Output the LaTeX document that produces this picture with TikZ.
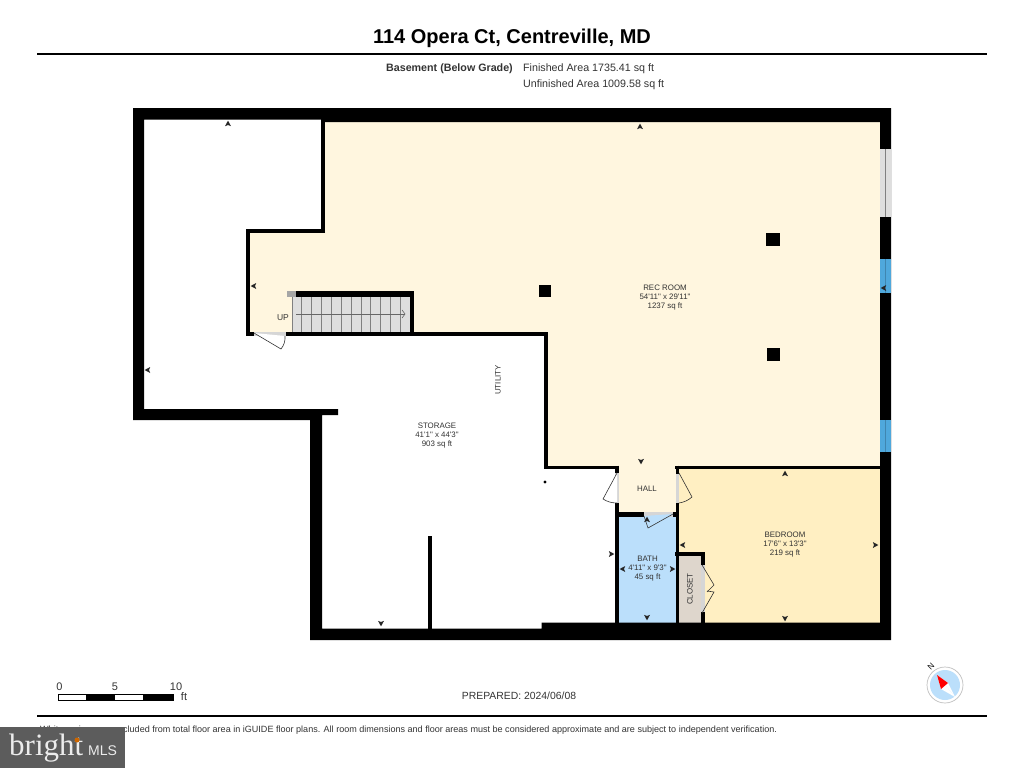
\documentclass[tikz,border=0pt]{standalone}
\usepackage{fontspec}
\setmainfont[Ligatures=TeXOff]{Liberation Sans}
\newfontfamily\logofont{Liberation Serif}
\definecolor{recfill}{HTML}{FFF6DF}
\definecolor{bedfill}{HTML}{FFEFC2}
\definecolor{bathfill}{HTML}{BBDFFB}
\definecolor{closetfill}{HTML}{DED6CC}
\definecolor{stairfill}{HTML}{DEDEDE}
\definecolor{doorfill}{HTML}{D6D6D6}
\definecolor{glassblue}{HTML}{4FA8DC}
\definecolor{labelgray}{HTML}{333333}
\definecolor{logogray}{HTML}{5C5C5C}
\tikzset{
    wall/.style={fill=black, draw=none},
    iwall/.style={draw=black, line cap=butt},
    room/.style={inner sep=0pt, align=center, text=labelgray, font=\fontsize{7.9}{9}\selectfont},
    sheet/.style={inner sep=0pt, anchor=base, font=\fontsize{10.7}{12}\selectfont, text=labelgray},
    scalenum/.style={sheet, font=\fontsize{11}{13}\selectfont},
    door/.style={draw=labelgray, line width=0.6pt},
    doorgap/.style={fill=doorfill, draw=none},
    tick/.pic={\fill[black!85] (-3,2.2) -- (0,-3.4) -- (3,2.2) -- (0,1) -- cycle;},
}
\begin{document}
\begin{tikzpicture}[x=1pt, y=-1pt]
    \useasboundingbox (0,0) rectangle (1024,768);
    %
    % room fills
    \fill[recfill] (322,120) -- (882,120) -- (882,467) -- (677,467) -- (677,515) -- (617,515) -- (617,467) -- (546,467) -- (546,333) -- (248,333) -- (248,232) -- (322,232) -- cycle;
    \fill[bedfill] (677,467) -- (882,467) -- (882,624) -- (703,624) -- (703,553) -- (677,553) -- cycle;
    \fill[bathfill] (617,513) rectangle (677,624);
    \fill[closetfill] (677,553) rectangle (703,624);
    \fill[stairfill] (292,295) rectangle (412,333);
    %
    % stairs
    \foreach \x in {292,301,311,321,331,341,351,361,370,380,390,400}
        \draw[gray, line width=0.6pt] (\x,296) -- (\x,333);
    \draw[gray!80!black, line width=0.6pt] (296,314) -- (405,314);
    \draw[gray!80!black, line width=0.6pt] (402,310) -- (405,314) -- (402,318);
    \fill[gray!70] (287,291) rectangle (296,297);
    %
    % outer walls
    \fill[wall, even odd rule]
        (133,108) -- (891,108) -- (891,640) -- (310,640) -- (310,420) -- (133,420) -- cycle
        (144,119.5) -- (322,119.5) -- (322,122) -- (880,122) -- (880,622.5) -- (541.5,622.5) -- (541.5,628.5) -- (322,628.5) -- (322,415) -- (338,415) -- (338,409) -- (144,409) -- cycle;
    %
    % inner walls
    \draw[iwall, line width=4pt] (323,119) -- (323,233);
    \draw[iwall, line width=4pt] (325,231) -- (248,231) -- (248,336);
    \draw[iwall, line width=6pt] (296,294) -- (414,294);
    \draw[iwall, line width=4pt] (412,292) -- (412,335);
    \draw[iwall, line width=4pt] (246,334) -- (548,334);
    \draw[iwall, line width=4pt] (546,332) -- (546,469);
    \draw[iwall, line width=3.5pt] (544,467.5) -- (619,467.5);
    \draw[iwall, line width=4pt] (617,465.5) -- (617,623);
    \draw[iwall, line width=3.5pt] (677.5,465.5) -- (677.5,623);
    \draw[iwall, line width=3.5pt] (675,467.5) -- (881,467.5);
    \draw[iwall, line width=5pt] (615,514.5) -- (679,514.5);
    \draw[iwall, line width=4pt] (675,554) -- (705,554);
    \draw[iwall, line width=4pt] (703,552) -- (703,623);
    \draw[iwall, line width=4pt] (430,536) -- (430,629);
    %
    % columns
    \fill[black] (766,233) rectangle (780,246);
    \fill[black] (539,285) rectangle (551,297);
    \fill[black] (767,348) rectangle (780,361);
    \fill[black] (545,482) circle (1.7);
    %
    % windows
    \fill[stairfill] (880,149) rectangle (891,217);
    \draw[black!50, line width=1.6pt] (885.5,149) -- (885.5,217);
    \fill[glassblue] (880,259) rectangle (891,293);
    \fill[glassblue] (880,420) rectangle (891,452);
    \draw[glassblue!80!black, line width=0.6pt] (885.5,259) -- (885.5,293);
    \draw[glassblue!80!black, line width=0.6pt] (885.5,420) -- (885.5,452);
    %
    % doors
    \fill[doorgap] (254,332) rectangle (286,336);
    \draw[door, fill=white] (254,333) -- (281,349) to[bend right=20] (285,336);
    \fill[doorgap] (615,473) rectangle (619,503);
    \draw[door, fill=white] (617,473) -- (603,499) to[bend right=15] (617,503);
    \fill[doorgap] (675.5,474) rectangle (679.5,503);
    \draw[door, fill=bedfill] (679,473) -- (692,497) to[bend left=15] (679,503);
    \fill[doorgap] (644,512) rectangle (673,517);
    \draw[door, fill=bathfill] (673,514) -- (648,528) -- (644,516);
    \fill[doorgap] (701,565) rectangle (705,612);
    \draw[door] (702,565) -- (714,585) -- (707,592);
    \draw[door] (707,591) -- (714,592) -- (702,613);
    %
    % dimension ticks
    \foreach \x/\y/\a in {228/124/0, 640/127/0, 785/474/0, 647/520/0,
                          641/461/180, 785/618/180, 381/623/180, 647/617/180,
                          254/286/90, 148/370/90, 683/545/90, 884/288/90, 623/569/90,
                          875/545/-90, 611/554/-90, 672/569/-90}
        \pic[rotate=\a] at (\x,\y) {tick};
    %
    % room labels
    \node[room] (recroom) at (665,298) {REC ROOM\\54'11" x 29'11"\\1237 sq ft};
    \node[room] (storage) at (437,436) {STORAGE\\41'1" x 44'3"\\903 sq ft};
    \node[room, rotate=90] (utility) at (498,380) {UTILITY};
    \node[room] (hall) at (647,489) {HALL};
    \node[room] (bath) at (647.5,569) {BATH\\4'11" x 9'3"\\45 sq ft};
    \node[room, rotate=90] (closet) at (690,589) {CLOSET};
    \node[room] (bedroom) at (785,545) {BEDROOM\\17'6" x 13'3"\\219 sq ft};
    \node[room, font=\fontsize{8.5}{9}\selectfont] (up) at (283,318) {UP};
    %
    % sheet header
    \node[inner sep=0pt, anchor=base, font=\fontsize{20}{22}\selectfont\bfseries] (title) at (512,44) {114 Opera Ct, Centreville, MD};
    \draw[line width=1.6pt] (37,54) -- (987,54);
    \node[sheet, anchor=base east, font=\fontsize{10.7}{12}\selectfont\bfseries] (level) at (513,71.5) {Basement (Below Grade)};
    \node[sheet, anchor=base west] (finished) at (523,71.5) {Finished Area 1735.41 sq ft};
    \node[sheet, anchor=base west] (unfinished) at (523,87.5) {Unfinished Area 1009.58 sq ft};
    %
    % scale bar
    \draw[black, line width=0.5pt, fill=white] (58,694.5) rectangle (173,700);
    \fill[black] (86,694) rectangle (115,700);
    \fill[black] (143,694) rectangle (173,700);
    \node[scalenum] (zero) at (59.5,690) {0};
    \node[scalenum] (five) at (115,690) {5};
    \node[scalenum] (ten) at (176,690) {10};
    \node[scalenum] (ft) at (184,700.5) {ft};
    \node[sheet, font=\fontsize{10.4}{12}\selectfont] (prepared) at (519,699) {PREPARED: 2024/06/08};
    %
    % compass
    \draw[gray!50, line width=0.7pt, fill=white] (945,685) circle (18);
    \fill[bathfill] (945,685) circle (15);
    \fill[white] (937,675) -- (955,697) -- (948,683) -- cycle;
    \fill[white] (937,675) -- (955,697) -- (941,689) -- cycle;
    \fill[red] (937,675) -- (948,683) -- (941,689) -- cycle;
    \node[inner sep=0pt, rotate=45, font=\fontsize{8}{9}\selectfont] (north) at (931,667) {N};
    %
    % footer
    \draw[line width=1.6pt] (37,716) -- (987,716);
    \node[sheet, anchor=base west, font=\fontsize{9.05}{10}\selectfont] (note) at (40,732) {White regions are excluded from total floor area in iGUIDE floor plans. All room dimensions and floor areas must be considered approximate and are subject to independent verification.};
    \fill[logogray] (0,727) rectangle (125,768);
    \node[inner sep=0pt, anchor=base west, text=white!85!gray, font=\fontsize{31}{33}\logofont] (bright) at (9,755) {bright};
    \fill[orange!80!black] (77,740) circle (2.5);
    \node[inner sep=0pt, anchor=base west, text=white!85!gray, font=\fontsize{14}{16}\selectfont] (mls) at (88,755) {MLS};
\end{tikzpicture}
\end{document}
